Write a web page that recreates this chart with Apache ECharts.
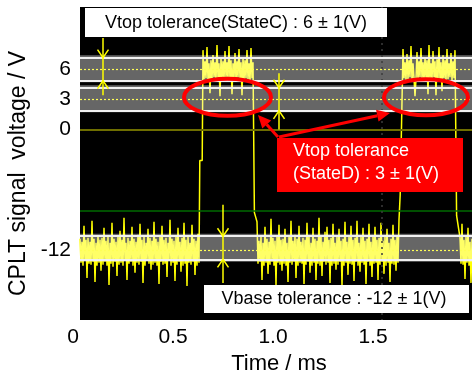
<!DOCTYPE html>
<html>
<head>
<meta charset="utf-8">
<script src="https://cdn.jsdelivr.net/npm/echarts@6/dist/echarts.min.js"></script>
<style>
  html, body { margin: 0; padding: 0; background: #fff; }
  #chart { width: 472px; height: 371px; }
</style>
</head>
<body>
<div id="chart"></div>
<script>
const FONT = '"Liberation Sans", Arial, sans-serif';

// axis ticks
const X_TICK_LABELS = ['0', '0.5', '1.0', '1.5'];
const Y_TICKS = [6, 3, 0, -12];

// scope sample clock (ms per sample) and screen span
const SAMPLE_MS = 0.005;
const SCREEN_T = [0.035, 2.0];

// CPLT trace, one segment per state
const lowA = [
  -10.9,-13.3,-11.2,-13.6,-9.6,-13.1,-11.0,-14.8,-10.8,-13.4,
  -11.2,-13.5,-9.1,-13.2,-10.9,-15.2,-11.3,-13.6,-10.6,-13.3,
  -11.0,-14.1,-10.8,-13.5,-9.8,-13.2,-11.1,-13.6,-10.7,-15.5,
  -11.3,-13.4,-9.3,-13.7,-10.9,-13.2,-11.2,-14.6,-10.6,-13.5,
  -10.1,-13.3,-11.0,-13.6,-8.8,-13.1,-11.3,-15.0,-10.8,-13.4,
  -11.1,-13.2,-9.7,-13.6,-10.9,-14.3,-11.2,-13.3,-10.5,-13.5,
  -9.4,-13.2,-11.0,-15.3,-10.7,-13.6,-11.3,-13.1,-9.9,-13.4,
  -10.8,-14.0,-11.1,-13.5,-9.2,-13.3,-10.9,-13.6,-11.2,-15.4,
  -10.6,-13.2,-9.6,-13.5,-11.0,-13.4,-10.8,-14.7,-11.3,-13.1,
  -9.0,-13.6,-10.9,-13.3,-11.1,-15.1,-10.7,-13.5,-9.8,-13.2,
  -11.2,-14.2,-10.8,-13.6,-9.3,-13.4,-11.0,-15.6,-10.6,-13.3,
  -11.3,-13.5,-9.5,-13.2,-10.9,-14.5,-11.1,-13.6,-10.4,-13.3
];
const riseA = [[0.634, -3.1], [0.646, -3.1]];
const highA = [
  7.9,5.0,6.8,5.1,8.2,4.9,6.6,3.6,6.9,5.0,
  7.4,5.2,6.7,4.8,8.4,5.1,6.6,3.3,7.1,5.0,
  6.8,4.9,7.8,5.2,6.7,5.0,8.3,4.8,6.9,3.5,
  6.6,5.1,7.6,4.9,6.8,5.2,8.0,5.0,6.7,3.4,
  7.2,4.9,6.9,5.1,7.9,5.0,6.6,4.8,8.1,5.1,
  6.7
];
const fallA = [[0.907, -8.3]];
const lowB = [
  -9.2,-13.4,-11.1,-13.2,-10.7,-15.0,-11.3,-13.6,-9.7,-13.3,
  -10.9,-14.4,-11.2,-13.5,-8.9,-13.2,-10.8,-13.6,-11.1,-15.5,
  -10.6,-13.3,-9.5,-13.5,-11.0,-14.1,-10.9,-13.4,-9.9,-13.6,
  -11.3,-15.2,-10.7,-13.3,-9.1,-13.5,-11.1,-13.2,-10.5,-14.8,
  -10.9,-13.6,-9.6,-13.3,-11.2,-13.4,-10.8,-15.4,-11.0,-13.5,
  -9.3,-13.2,-10.7,-14.3,-11.3,-13.6,-9.8,-13.3,-10.9,-15.0,
  -11.1,-13.4,-8.8,-13.6,-10.6,-14.6,-11.2,-13.2,-10.2,-13.5,
  -9.7,-13.3,-11.0,-15.3,-10.8,-13.6,-9.4,-13.4,-11.3,-14.0,
  -10.7,-13.5,-9.9,-13.2,-11.1,-15.6,-10.9,-13.6,-9.2,-13.3,
  -11.2,-14.5,-10.6,-13.4,-9.6,-13.5,-11.0,-15.1,-10.8,-13.2,
  -9.1,-13.6,-11.3,-14.2,-10.7,-13.3,-9.8,-13.5,-11.1,-15.4,
  -10.9,-13.2,-9.4,-13.6,-11.2,-14.7,-10.6,-13.4,-9.7,-13.3,
  -11.0,-15.0,-10.8,-13.5,-9.3,-13.2,-11.1,-14.4,-10.7,-13.6,
  -9.9,-13.3,-11.3,-15.2,-10.9,-13.4,-9.5,-13.5,-11.0,-14.1,
  -10.6,-13.3,-9.0
];
const riseB = [[1.636, -6.5], [1.644, -6.5]];
const highB = [
  8.0,5.1,6.7,4.9,7.5,5.0,6.9,5.2,8.3,4.8,
  6.6,5.1,3.3,5.0,7.7,4.9,6.8,5.2,8.1,5.0,
  6.7,4.8,7.2,5.1,6.9,3.5,8.4,5.0,6.6,4.9,
  7.8,5.2,6.8,3.4,7.0,5.0,8.2,4.9,6.7,3.8,
  7.4,5.1,6.9,4.8,8.0,5.0,6.6,5.2,7.6,4.9,
  6.8,5.1,7.9
];
const fallB = [[1.918, -8.6]];
const lowC = [-10.8,-13.4,-9.4,-13.5,-11.0,-14.9,-10.7,-13.3,-9.8,-13.6,-11.2,-15.3,-10.9];
const SEG_START = { lowA: 0.035, highA: 0.65, lowB: 0.92, highB: 1.65, lowC: 1.935 };

// tolerance bands: [fill top, fill bottom], [line top, line bottom], dotted level
const BAND_FILL = [[7.4, 4.7], [4.4, 1.7], [-10.4, -13.2]];
const BAND_LINES = [[7.15, 4.85], [4.15, 1.85], [-10.65, -12.95]];
const DOTTED_LEVELS = [6, 3, -12];
const ZERO_LEVEL = 0;
const TRIGGER_LEVEL = -8.1;
const GRATICULE_T = 1.545;

// yellow double arrows: [t, line top, line bottom, head down, head up]
const TOL_ARROWS = [
  [0.15, 9.1, 3.4, 7.15, 4.85],
  [1.03, 5.6, 0.0, 4.15, 1.85],
  [0.75, -7.5, -15.3, -10.65, -12.95]
];
// red ellipses: [t, V, rx (ms), ry (V)]
const ELLIPSES = [[0.7725, 3.2, 0.2175, 1.85], [1.765, 3.2, 0.21, 1.8]];
// red arrows: [t0, V0, t1, V1]
const RED_ARROWS = [[1.025, -0.76, 0.925, 1.44], [1.03, -0.76, 1.585, 1.64]];

const trace = [];
function addSeg(start, vals) {
  vals.forEach((v, i) => trace.push([+(start + i * SAMPLE_MS).toFixed(4), v]));
}
addSeg(SEG_START.lowA, lowA);
riseA.forEach(p => trace.push(p));
addSeg(SEG_START.highA, highA);
fallA.forEach(p => trace.push(p));
addSeg(SEG_START.lowB, lowB);
riseB.forEach(p => trace.push(p));
addSeg(SEG_START.highB, highB);
fallB.forEach(p => trace.push(p));
addSeg(SEG_START.lowC, lowC);

function hLine(v, style) {
  return [{ coord: [SCREEN_T[0], v], lineStyle: style }, { coord: [SCREEN_T[1], v] }];
}

function textStyle(x, y, text, fill, align) {
  return { x: x, y: y, text: text, font: '18px ' + FONT, fill: fill,
    align: align, verticalAlign: 'middle', textAlign: align, textVerticalAlign: 'middle' };
}

const chart = echarts.init(document.getElementById('chart'));

const option = {
  animation: false,
  grid: { left: 73, top: 7, width: 400, height: 313, containLabel: false, outerBoundsMode: 'none' },
  xAxis: {
    type: 'value', min: 0, max: 2, interval: 0.5,
    name: 'Time / ms', nameLocation: 'middle', nameGap: 31,
    nameTextStyle: { fontSize: 22, color: '#000', fontFamily: FONT, padding: [0, 0, 0, 12] },
    axisLine: { show: false }, axisTick: { show: false }, splitLine: { show: false },
    axisLabel: {
      fontSize: 21, color: '#000', fontFamily: FONT, margin: 7,
      formatter: v => X_TICK_LABELS[Math.round(v / 0.5)] || ''
    }
  },
  yAxis: {
    type: 'value', min: -19, max: 12.2, interval: 1,
    name: 'CPLT signal  voltage / V', nameLocation: 'middle', nameGap: 36,
    nameTextStyle: { fontSize: 23, color: '#000', fontFamily: FONT, padding: [0, 20, 0, 0] },
    axisLine: { show: false }, axisTick: { show: false }, splitLine: { show: false },
    axisLabel: {
      fontSize: 21, color: '#000', fontFamily: FONT, margin: 2,
      formatter: v => (Y_TICKS.indexOf(v) >= 0 ? String(v) : '')
    }
  },
  graphic: [
    { type: 'rect', left: 80, top: 7, shape: { width: 392, height: 313 }, style: { fill: '#000' }, z: -10 },
    { type: 'rect', z: 100, shape: { x: 85, y: 8, width: 302, height: 29 }, style: { fill: '#fff' } },
    { type: 'text', z: 101, style: textStyle(236, 23, 'Vtop tolerance(StateC) : 6 ± 1(V)', '#000', 'center') },
    { type: 'rect', z: 100, shape: { x: 204, y: 285, width: 265, height: 28 }, style: { fill: '#fff' } },
    { type: 'text', z: 101, style: textStyle(334, 299.5, 'Vbase tolerance : -12 ± 1(V)', '#000', 'center') },
    { type: 'rect', z: 100, shape: { x: 277, y: 138, width: 186, height: 54 }, style: { fill: '#ff0000' } },
    { type: 'text', z: 101, style: textStyle(293, 151, 'Vtop tolerance', '#fff', 'left') },
    { type: 'text', z: 101, style: textStyle(293, 174, '(StateD) : 3 ± 1(V)', '#fff', 'left') }
  ],
  series: [
    {
      name: 'CPLT', type: 'line', z: 2, data: trace, showSymbol: false, symbol: 'none',
      lineStyle: { color: '#ffff00', width: 1.5 },
      markLine: {
        silent: true, symbol: 'none', label: { show: false },
        data: [
          hLine(ZERO_LEVEL, { color: '#6e6e00', width: 2, type: 'solid' }),
          hLine(TRIGGER_LEVEL, { color: '#006a00', width: 1.5, type: 'solid' }),
          [{ coord: [GRATICULE_T, 12.2], lineStyle: { color: '#3c3c3c', width: 1.5, type: [2, 4] } },
           { coord: [GRATICULE_T, -19] }]
        ]
      }
    },
    {
      name: 'bands', type: 'custom', z: 3, silent: true,
      encode: { x: [0, 1], y: [2, 3] },
      data: BAND_FILL.map(b => [SCREEN_T[0], SCREEN_T[1], b[0], b[1]]),
      renderItem: (params, api) => {
        const p1 = api.coord([api.value(0), api.value(2)]);
        const p2 = api.coord([api.value(1), api.value(3)]);
        return { type: 'rect', shape: { x: p1[0], y: p1[1], width: p2[0] - p1[0], height: p2[1] - p1[1] },
          style: { fill: 'rgba(255,255,255,0.4)' } };
      }
    },
    {
      name: 'bandLines', type: 'line', z: 4, data: [],
      markLine: {
        silent: true, symbol: 'none', label: { show: false },
        data: [].concat(
          ...BAND_LINES.map(b => [
            hLine(b[0], { color: '#f0f0f0', width: 2, type: 'solid' }),
            hLine(b[1], { color: '#f0f0f0', width: 2, type: 'solid' })
          ]),
          DOTTED_LEVELS.map(v => hLine(v, { color: '#ffff55', width: 1.2, type: [2, 2] }))
        )
      }
    },
    {
      name: 'tolArrows', type: 'custom', z: 6, silent: true,
      encode: { x: 0, y: [1, 2] },
      data: TOL_ARROWS,
      renderItem: (params, api) => {
        const t = api.value(0);
        const top = api.coord([t, api.value(1)]);
        const bot = api.coord([t, api.value(2)]);
        const hd = api.coord([t, api.value(3)]);
        const hu = api.coord([t, api.value(4)]);
        const w = 5.5, h = 8;
        const st = { stroke: '#ffff00', fill: null, lineWidth: 1.5 };
        return { type: 'group', children: [
          { type: 'line', shape: { x1: top[0], y1: top[1], x2: bot[0], y2: bot[1] }, style: st },
          { type: 'polyline', shape: { points: [[hd[0] - w, hd[1] - h], [hd[0], hd[1]], [hd[0] + w, hd[1] - h]] }, style: st },
          { type: 'polyline', shape: { points: [[hu[0] - w, hu[1] + h], [hu[0], hu[1]], [hu[0] + w, hu[1] + h]] }, style: st }
        ] };
      }
    },
    {
      name: 'ellipses', type: 'custom', z: 7, silent: true,
      encode: { x: 0, y: 1 },
      data: ELLIPSES,
      renderItem: (params, api) => {
        const c = api.coord([api.value(0), api.value(1)]);
        const s = api.size([api.value(2), api.value(3)]);
        return { type: 'ellipse', shape: { cx: c[0], cy: c[1], rx: s[0], ry: s[1] },
          style: { fill: null, stroke: '#ff0000', lineWidth: 4 } };
      }
    },
    {
      name: 'redArrows', type: 'custom', z: 8, silent: true,
      encode: { x: [0, 2], y: [1, 3] },
      data: RED_ARROWS,
      renderItem: (params, api) => {
        const p0 = api.coord([api.value(0), api.value(1)]);
        const p1 = api.coord([api.value(2), api.value(3)]);
        const dx = p1[0] - p0[0], dy = p1[1] - p0[1];
        const len = Math.sqrt(dx * dx + dy * dy);
        const ux = dx / len, uy = dy / len;
        const hl = 13, hw = 6;
        const bx = p1[0] - ux * hl, by = p1[1] - uy * hl;
        return { type: 'group', children: [
          { type: 'line', shape: { x1: p0[0], y1: p0[1], x2: bx, y2: by }, style: { stroke: '#ff0000', lineWidth: 3 } },
          { type: 'polygon', shape: { points: [[p1[0], p1[1]], [bx - uy * hw, by + ux * hw], [bx + uy * hw, by - ux * hw]] },
            style: { fill: '#ff0000' } }
        ] };
      }
    }
  ]
};

chart.setOption(option);
</script>
</body>
</html>
